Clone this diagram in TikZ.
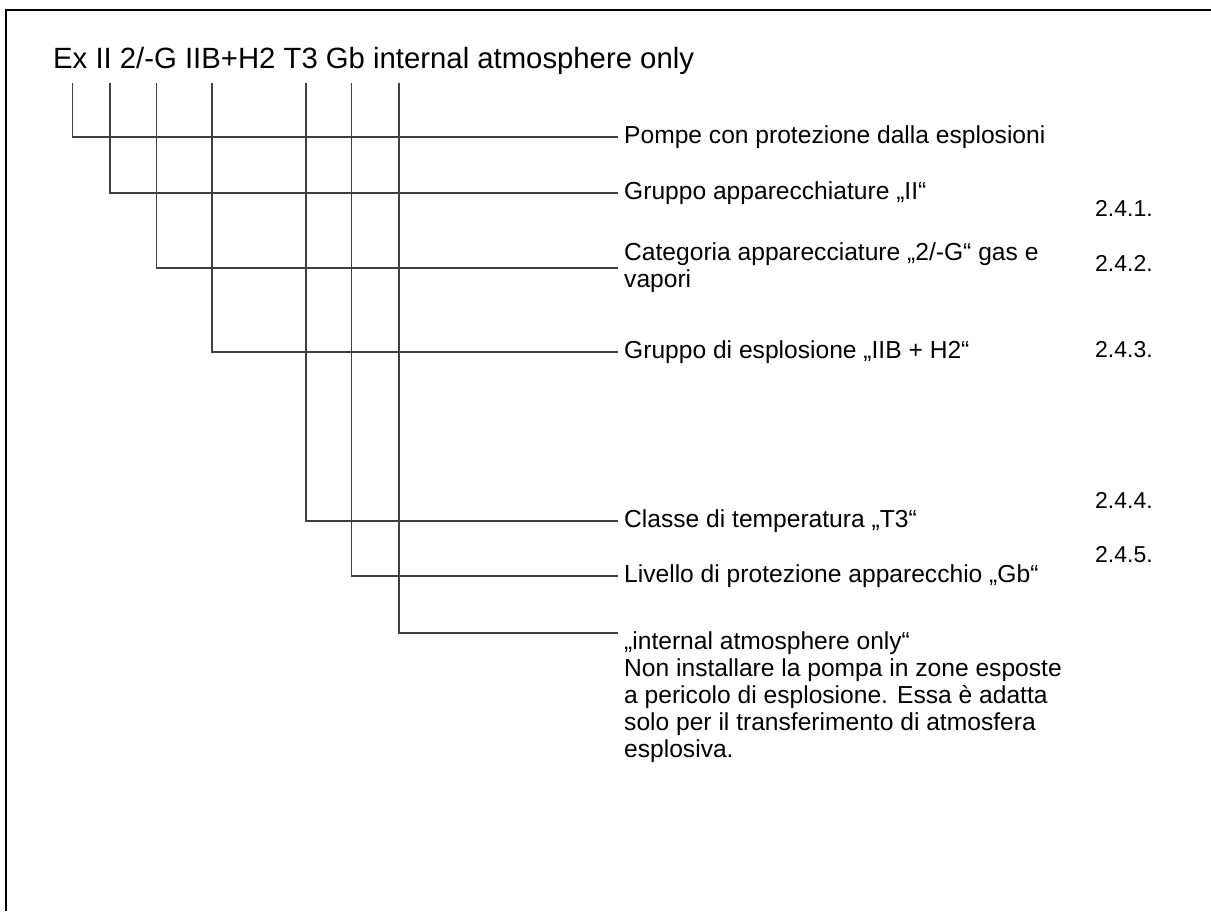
\documentclass[tikz,border=0pt]{standalone}
\usepackage{fontspec}
\setmainfont{Liberation Sans}
\usetikzlibrary{positioning}

\begin{document}
\begin{tikzpicture}[x=1pt,y=-1pt,
conn/.style={draw=black!75, line width=1.2pt},
label/.style={anchor=west, inner xsep=6pt, inner ysep=0pt, align=left,
  font=\fontsize{24.6}{27}\selectfont},
num/.style={anchor=west, inner sep=0pt, font=\fontsize{23}{27}\selectfont},]
\useasboundingbox (0,0) rectangle (1211,911);
% frame
\draw[line width=2pt] (5.7,911) -- (5.7,10) -- (1211,10);

% marking
\node[anchor=base west, inner sep=0pt, font=\fontsize{29.3}{34}\selectfont] (marking)
  at (53,68) {Ex II 2/-G IIB+H2 T3 Gb internal atmosphere only};
\foreach \name/\x in {ex/72.7, grp/110, cat/156.7, expl/212, temp/306, prot/351.7, atm/399}
  \coordinate (top-\name) at (\x,83);

% explanations
\node[label] (ex)   at (618,137) {Pompe con protezione dalla esplosioni};
\node[label] (grp)  at (618,193) {Gruppo apparecchiature „II“};
\node[label] (cat)  at (618,268) {Categoria apparecciature „2/-G“ gas e\\vapori};
\node[label] (expl) at (618,352) {Gruppo di esplosione „IIB + H2“};
\node[label] (temp) at (618,521) {Classe di temperatura „T3“};
\node[label] (prot) at (618,576) {Livello di protezione apparecchio „Gb“};
\node[label, anchor=north west] (atm) at (618,631)
  {„internal atmosphere only“\\Non installare la pompa in zone esposte\\a pericolo di esplosione. Essa è adatta\\solo per il transferimento di atmosfera\\esplosiva.};

% section numbers
\node[num] (s1) at (1095,208) {2.4.1.};
\node[num] (s2) at (1095,263) {2.4.2.};
\node[num] (s3) at (1095,350) {2.4.3.};
\node[num] (s4) at (1095,500) {2.4.4.};
\node[num] (s5) at (1095,555) {2.4.5.};

% connectors
\foreach \name in {ex, grp, cat, expl, temp, prot}
  \draw[conn] (top-\name) |- (\name.west);
\draw[conn] (top-atm) |- ([yshift=-2pt]atm.north west);
\end{tikzpicture}
\end{document}
